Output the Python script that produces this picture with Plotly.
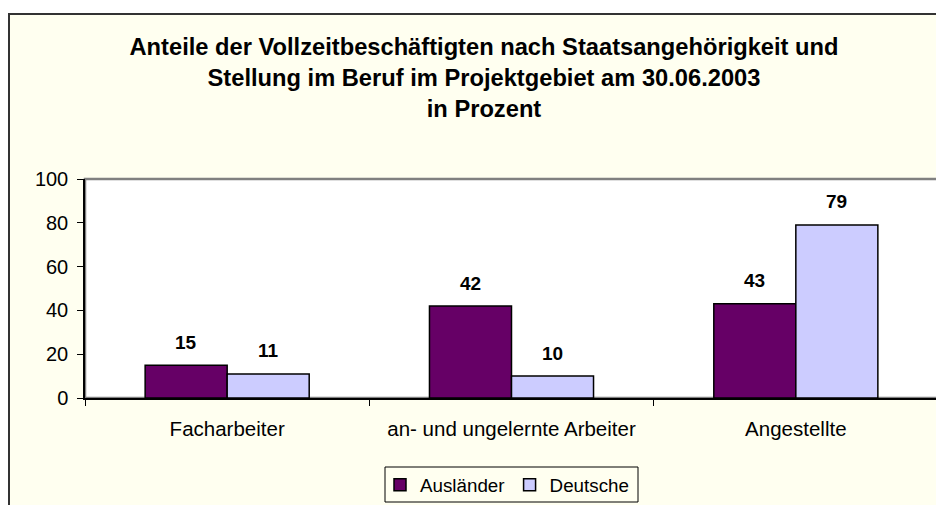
import plotly.graph_objects as go

categories = ["Facharbeiter", "an- und ungelernte Arbeiter", "Angestellte"]
auslaender = [15, 42, 43]
deutsche = [11, 10, 79]
series_names = ["Ausländer", "Deutsche"]
y_ticks = [0, 20, 40, 60, 80, 100]
title_lines = [
    "Anteile der Vollzeitbeschäftigten nach Staatsangehörigkeit und",
    "Stellung im Beruf im Projektgebiet am 30.06.2003",
    "in Prozent",
]

FONT = "Liberation Sans, Arial, sans-serif"
OFF = 8  # page body margin
W, H = 944 - OFF, 505 - OFF
# plot area in page coords: x 85..938, y 179..398
L, R, T, B = 85 - OFF, W - (938 - OFF), 179 - OFF, H - (398 - OFF)
pw, ph = W - L - R, H - T - B

def px_x(x):
    return (x - OFF - L) / pw

def px_y(y):
    return (H - B - (y - OFF)) / ph

fig = go.Figure()
fig.add_trace(go.Bar(x=categories, y=auslaender, name=series_names[0],
                     marker=dict(color="#660066", line=dict(color="black", width=1.5))))
fig.add_trace(go.Bar(x=categories, y=deutsche, name=series_names[1],
                     marker=dict(color="#CCCCFF", line=dict(color="black", width=1.5))))

annotations = []
for vals, sh in ((auslaender, -41), (deutsche, 41)):
    for c, v in zip(categories, vals):
        annotations.append(dict(x=c, y=v, xref="x", yref="y", text=str(v), showarrow=False,
                                xshift=sh, yshift=23, yanchor="middle",
                                font=dict(family=FONT, size=19, color="black", weight="bold")))

shapes = [
    dict(type="rect", xref="paper", yref="paper", x0=px_x(9), x1=1.3, y0=-2, y1=px_y(14),
         fillcolor="#FFFFF0", line=dict(color="#333333", width=2), layer="below"),
    dict(type="rect", xref="paper", yref="paper", x0=0, x1=1, y0=0, y1=1,
         fillcolor="white", line=dict(color="#808080", width=2.5), layer="below"),
    dict(type="rect", xref="paper", yref="paper", x0=px_x(385), x1=px_x(638),
         y0=px_y(502), y1=px_y(467), fillcolor="rgba(0,0,0,0)",
         line=dict(color="black", width=1), layer="below"),
]

fig.update_layout(
    width=W, height=H,
    margin=dict(l=L, r=R, t=T, b=B, autoexpand=False),
    paper_bgcolor="white", plot_bgcolor="white",
    barmode="group", bargap=0.423, bargroupgap=0,
    font=dict(family=FONT, color="black", size=20),
    title=dict(text="<br>".join(title_lines), x=(484 - OFF) / W, xanchor="center", xref="container",
               y=1 - 47 / H, yanchor="top", yref="container",
               font=dict(family=FONT, size=23.7, color="black", weight="bold")),
    xaxis=dict(showline=True, linecolor="black", linewidth=1.5, ticks="outside", tickson="boundaries",
               ticklen=6, tickcolor="black", tickfont=dict(size=20.5), ticklabelstandoff=12,
               automargin=False),
    yaxis=dict(range=[0, 100], tickvals=y_ticks, showline=True, linecolor="black", linewidth=1.5,
               ticks="outside", ticklen=6, tickcolor="black", showgrid=False, zeroline=False,
               tickfont=dict(size=20), ticklabelstandoff=5, automargin=False),
    legend=dict(orientation="h", x=px_x(507), xanchor="center", y=px_y(485), yanchor="middle",
                borderwidth=0, bgcolor="rgba(0,0,0,0)", font=dict(size=18.8),
                itemwidth=30, tracegroupgap=0),
    annotations=annotations,
    shapes=shapes,
    showlegend=True,
)

fig.write_html("out.html")
